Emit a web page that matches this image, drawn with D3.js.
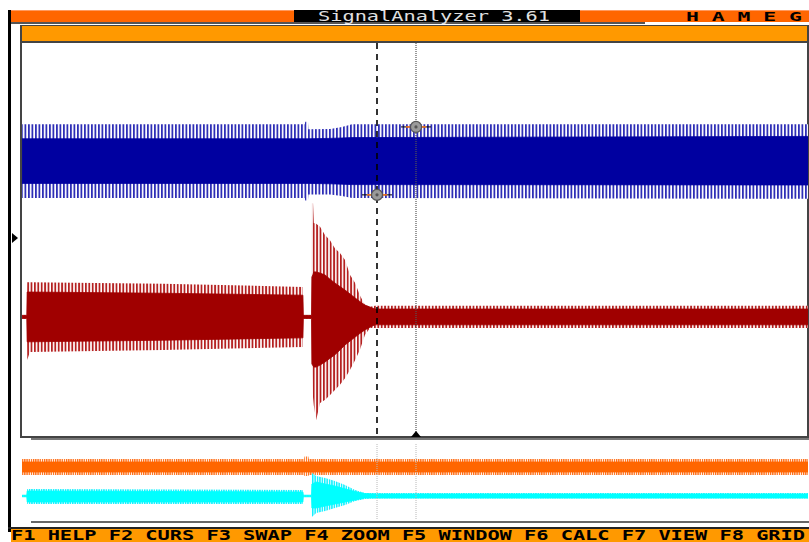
<!DOCTYPE html>
<html>
<head>
<meta charset="utf-8">
<script src="https://cdn.jsdelivr.net/npm/d3@7"></script>
<style>
  html, body { margin: 0; padding: 0; background: #fff; }
  #viz { width: 809px; height: 542px; }
</style>
</head>
<body>
<div id="viz"></div>
<script>
// time in ms, levels in % of the screen height (main panel) / lower panel units
const blueT   = [-1, 71.5, 71.6, 72.3, 72.4, 78.0, 81.0, 83.6, 201];
const blueTop = [79.2, 79.2, 79.8, 79.8, 77.9, 78.0, 78.5, 79.2, 79.2];
const blueHi  = [75.5, 75.5, 75.5, 75.5, 75.5, 75.6, 75.7, 75.8, 76.1];
const blueLo  = [64.2, 64.2, 64.2, 64.2, 64.2, 64.1, 64.0, 63.9, 63.8];
const blueBot = [60.5, 60.5, 59.9, 59.9, 61.4, 61.4, 61.0, 60.5, 60.3];

const redT   = [-1, 0.2, 0.3, 1.0, 35, 71.0, 71.1, 73.2, 73.3, 73.6, 73.8, 74.4, 75.4, 76.7, 77.9, 79.2, 80.5, 81.8, 83.1, 84.4, 85.6, 86.9, 88.2, 89.5, 201];
const redTop = [30.8, 30.8, 39.2, 39.2, 38.8, 38.0, 30.8, 30.8, 59.2, 59.2, 54.2, 54.0, 53.2, 51.1, 49.9, 47.8, 46.6, 44.8, 41.0, 39.0, 35.9, 33.4, 33.0, 33.2, 33.2];
const redHi  = [30.8, 30.8, 36.7, 36.7, 36.4, 35.9, 30.8, 30.8, 40.5, 41.2, 41.8, 41.8, 41.5, 41.0, 40.0, 39.0, 38.1, 37.2, 36.2, 35.2, 34.3, 33.4, 32.9, 32.4, 32.4];
const redLo  = [30.0, 30.0, 24.1, 24.1, 24.5, 25.1, 30.0, 30.0, 18.5, 18.0, 17.7, 17.7, 18.2, 19.0, 19.9, 20.8, 22.0, 23.3, 24.3, 25.3, 26.2, 27.1, 27.8, 28.4, 28.4];
const redBot = [30.0, 30.0, 19.5, 21.5, 22.0, 22.8, 30.0, 30.0, 17.7, 10.0, 8.0, 4.3, 8.6, 9.4, 10.6, 11.9, 13.2, 14.9, 17.0, 19.5, 22.0, 25.8, 27.6, 27.6, 27.6];

const orangeT   = [-1, 71.3, 71.4, 72.4, 72.5, 201];
const orangeTop = [15.75, 15.75, 16.4, 16.4, 15.75, 15.75];
const orangeHi  = [15.0, 15.0, 15.0, 15.0, 15.0, 15.0];
const orangeLo  = [12.5, 12.5, 12.5, 12.5, 12.5, 12.5];
const orangeBot = [11.75, 11.75, 11.5, 11.5, 11.75, 11.75];

const cyanT   = [-1, 0.2, 0.3, 71.0, 71.1, 73.2, 73.3, 74.4, 76.7, 79.2, 81.8, 84.4, 86.9, 89.5, 201];
const cyanTop = [6.7, 6.7, 8.25, 8.0, 6.7, 6.7, 12.25, 11.5, 11.0, 10.25, 9.25, 8.0, 7.25, 7.25, 7.25];
const cyanHi  = [6.7, 6.7, 7.75, 7.5, 6.7, 6.7, 9.5, 10.0, 9.5, 9.0, 8.3, 7.6, 7.1, 7.0, 7.0];
const cyanLo  = [6.3, 6.3, 5.0, 5.0, 6.3, 6.3, 3.5, 3.5, 4.0, 4.5, 5.0, 5.5, 6.0, 6.0, 6.0];
const cyanBot = [6.3, 6.3, 4.5, 4.5, 6.3, 6.3, 1.25, 2.25, 2.75, 3.5, 4.25, 5.25, 5.75, 5.9, 5.9];

// cursors
const cursorT = [90, 100];
const cursorLevel = [61.3, 78.5];

const titleText = 'SignalAnalyzer 3.61';
const brandText = 'H A M E G';
const keysText = 'F1 HELP F2 CURS F3 SWAP F4 ZOOM F5 WINDOW F6 CALC F7 VIEW F8 GRID';

const svg = d3
    .select('#viz')
    .append('svg')
    .attr('width', 809)
    .attr('height', 542)
    .style('display', 'block');

const xScale = d3.scaleLinear().domain([0, 200]).range([26, 806]);
const yMain = d3.scaleLinear().domain([0, 100]).range([437, 42]);
const yLow = d3.scaleLinear().domain([0, 20]).range([522, 442]);

const mono = "'DejaVu Sans Mono', 'Liberation Mono', monospace";

// stripe patterns for the spikes
const defs = svg.append('defs');
function stripes(id, w, sw, color) {
    const p = defs.append('pattern')
        .attr('id', id)
        .attr('patternUnits', 'userSpaceOnUse')
        .attr('width', w)
        .attr('height', 10);
    p.append('rect').attr('width', w).attr('height', 10).attr('fill', '#fff');
    p.append('rect').attr('width', sw).attr('height', 10).attr('fill', color);
}
stripes('blueStripes', 3.5, 1.8, '#2e2eb6');
stripes('redStripes', 3.4, 1.8, '#b42020');
stripes('orangeStripes', 2.2, 1.3, '#ff6a10');
stripes('cyanStripes', 2.4, 1.5, '#10f0ff');

defs.append('clipPath').attr('id', 'mainClip')
    .append('rect').attr('x', 22).attr('y', 43).attr('width', 786).attr('height', 393);
defs.append('clipPath').attr('id', 'lowClip')
    .append('rect').attr('x', 22).attr('y', 442).attr('width', 786).attr('height', 80);

// frame
svg.append('rect').attr('x', 8).attr('y', 10).attr('width', 3).attr('height', 522).attr('fill', '#000');
svg.append('rect').attr('x', 11).attr('y', 10).attr('width', 798).attr('height', 12).attr('fill', '#ff6600');
svg.append('rect').attr('x', 11).attr('y', 10).attr('width', 798).attr('height', 1).attr('fill', '#ff9a60');
svg.append('rect').attr('x', 294).attr('y', 10).attr('width', 286).attr('height', 12).attr('fill', '#000');
svg.append('rect').attr('x', 11).attr('y', 22).attr('width', 634).attr('height', 2).attr('fill', '#555');

svg.append('text')
    .attr('x', 318).attr('y', 21)
    .attr('font-family', mono).attr('font-size', 14)
    .attr('fill', '#e0e0e0')
    .attr('textLength', 232).attr('lengthAdjust', 'spacingAndGlyphs')
    .text(titleText);
svg.append('text')
    .attr('x', 686).attr('y', 21)
    .attr('font-family', mono).attr('font-size', 13).attr('font-weight', 'bold')
    .attr('fill', '#000')
    .attr('textLength', 116).attr('lengthAdjust', 'spacingAndGlyphs')
    .text(brandText);

// inner window
svg.append('rect').attr('x', 20).attr('y', 25).attr('width', 789).attr('height', 17)
    .attr('fill', '#ff9900');
svg.append('rect').attr('x', 20).attr('y', 25).attr('width', 789).attr('height', 1).attr('fill', '#444');
svg.append('rect').attr('x', 20).attr('y', 41).attr('width', 789).attr('height', 2).attr('fill', '#444');
svg.append('rect').attr('x', 20).attr('y', 25).attr('width', 2).attr('height', 413).attr('fill', '#444');
svg.append('rect').attr('x', 807).attr('y', 25).attr('width', 2).attr('height', 413).attr('fill', '#444');
svg.append('rect').attr('x', 20).attr('y', 436).attr('width', 789).attr('height', 2).attr('fill', '#444');
svg.append('rect').attr('x', 31).attr('y', 438).attr('width', 778).attr('height', 2).attr('fill', '#777');
svg.append('rect').attr('x', 31).attr('y', 521).attr('width', 778).attr('height', 2).attr('fill', '#666');

// left position marker
svg.append('path')
    .attr('d', d3.line()([[12, 233], [18, 238], [12, 243]]) + 'Z')
    .attr('fill', '#000');

function channel(g, T, top, hi, lo, bot, y, pattern, color) {
    const rows = T.map((t, i) => ({ t, top: top[i], hi: hi[i], lo: lo[i], bot: bot[i] }));
    const outer = d3.area().x((d) => xScale(d.t)).y0((d) => y(d.bot)).y1((d) => y(d.top));
    const inner = d3.area().x((d) => xScale(d.t)).y0((d) => y(d.lo)).y1((d) => y(d.hi));
    g.append('path').datum(rows).attr('d', outer).attr('fill', `url(#${pattern})`);
    g.append('path').datum(rows).attr('d', inner).attr('fill', color)
        .attr('stroke', color).attr('stroke-width', 0.8);
}

const main = svg.append('g').attr('clip-path', 'url(#mainClip)');
channel(main, blueT, blueTop, blueHi, blueLo, blueBot, yMain, 'blueStripes', '#0000a0');
channel(main, redT, redTop, redHi, redLo, redBot, yMain, 'redStripes', '#a00000');

const low = svg.append('g').attr('clip-path', 'url(#lowClip)');
channel(low, orangeT, orangeTop, orangeHi, orangeLo, orangeBot, yLow, 'orangeStripes', '#ff6600');
channel(low, cyanT, cyanTop, cyanHi, cyanLo, cyanBot, yLow, 'cyanStripes', '#00ffff');

// cursor lines
svg.append('line')
    .attr('x1', xScale(cursorT[0])).attr('x2', xScale(cursorT[0]))
    .attr('y1', 43).attr('y2', 436)
    .attr('stroke', '#000').attr('stroke-width', 1.6).attr('stroke-dasharray', '6,5');
svg.append('line')
    .attr('x1', xScale(cursorT[1])).attr('x2', xScale(cursorT[1]))
    .attr('y1', 43).attr('y2', 432)
    .attr('stroke', '#555').attr('stroke-width', 1.2).attr('stroke-dasharray', '1,1');
svg.selectAll('.lowCursor')
    .data(cursorT)
    .join('line')
    .attr('class', 'lowCursor')
    .attr('x1', (d) => xScale(d)).attr('x2', (d) => xScale(d))
    .attr('y1', 444).attr('y2', 519)
    .attr('stroke', '#b8b8b8').attr('stroke-width', 1).attr('stroke-dasharray', '1,1');

svg.append('path')
    .attr('d', d3.line()([
        [xScale(cursorT[1]) - 5, 437], [xScale(cursorT[1]), 431], [xScale(cursorT[1]) + 5, 437],
    ]) + 'Z')
    .attr('fill', '#000');

// cursor markers
const markers = svg.append('g');
cursorT.forEach((t, i) => {
    const cx = xScale(t);
    const cy = yMain(cursorLevel[i]);
    markers.append('line')
        .attr('x1', cx - 15).attr('x2', cx + 15).attr('y1', cy).attr('y2', cy)
        .attr('stroke', '#000').attr('stroke-width', 1);
    markers.append('line')
        .attr('x1', cx - 10).attr('x2', cx - 5).attr('y1', cy).attr('y2', cy)
        .attr('stroke', '#ff7a20').attr('stroke-width', 1.5);
    markers.append('line')
        .attr('x1', cx + 5).attr('x2', cx + 10).attr('y1', cy).attr('y2', cy)
        .attr('stroke', '#ff7a20').attr('stroke-width', 1.5);
    markers.append('circle')
        .attr('cx', cx).attr('cy', cy).attr('r', 5.5)
        .attr('fill', '#9a9a9a').attr('stroke', '#555').attr('stroke-width', 1.2);
    markers.append('circle')
        .attr('cx', cx).attr('cy', cy).attr('r', 1.6)
        .attr('fill', '#555');
});

// function key bar
svg.append('rect').attr('x', 8).attr('y', 527).attr('width', 801).attr('height', 2).attr('fill', '#222');
svg.append('rect').attr('x', 11).attr('y', 529).attr('width', 798).attr('height', 13).attr('fill', '#ff9900');
svg.append('text')
    .attr('x', 11).attr('y', 540)
    .attr('font-family', mono).attr('font-size', 14).attr('font-weight', 'bold')
    .attr('fill', '#000')
    .attr('textLength', 794).attr('lengthAdjust', 'spacingAndGlyphs')
    .text(keysText);
</script>
</body>
</html>
